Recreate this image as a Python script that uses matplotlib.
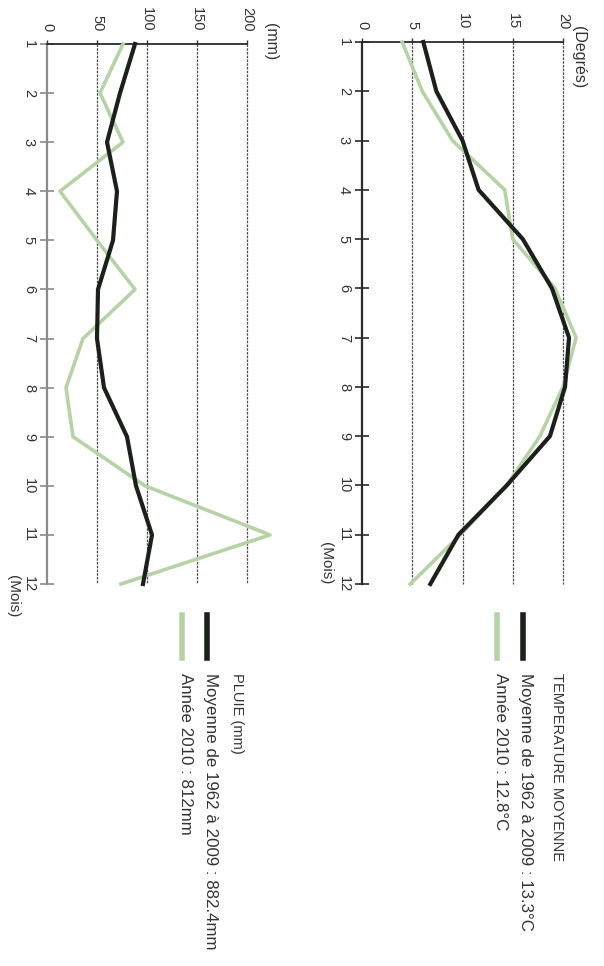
import matplotlib
matplotlib.use("Agg")
import matplotlib.pyplot as plt
from matplotlib.lines import Line2D

plt.rcParams['font.family'] = ['Liberation Sans', 'DejaVu Sans']

# Monthly data
mois = [1, 2, 3, 4, 5, 6, 7, 8, 9, 10, 11, 12]
temp_moyenne = [6.1, 7.4, 10.0, 11.6, 16.0, 18.9, 20.6, 20.2, 18.7, 14.4, 9.6, 6.8]
temp_2010 = [4.0, 6.0, 9.0, 14.2, 15.0, 19.2, 21.3, 20.0, 17.7, 14.4, 9.8, 4.8]
pluie_moyenne = [88, 73, 60, 70, 66, 51, 50, 57, 80, 89, 105, 96]
pluie_2010 = [76, 53, 76, 13, 50, 88, 36, 19, 26, 98, 223, 74]

temp_ticks = [0, 5, 10, 15, 20]
pluie_ticks = [0, 50, 100, 150, 200]

NOIR = '#1b201b'
VERT = '#b6d3a6'
GRILLE = '#4a4a4a'

W, H = 604, 966
fig = plt.figure(figsize=(W / 100, H / 100), dpi=100)


def px_rect(x0, x1, y0, y1):
    return [x0 / W, 1 - y1 / H, (x1 - x0) / W, (y1 - y0) / H]


def panneau(rect, vmax, ticks, moyenne, annee, spine_mois, unite, unite_xy, mois_xy):
    ax = fig.add_axes(rect)
    ax.set_xlim(0, vmax)
    ax.set_ylim(12, 1)
    ax.patch.set_alpha(0)
    for s in ['right', 'bottom']:
        ax.spines[s].set_visible(False)
    ax.spines['top'].set_color('#2a2a2a')
    ax.spines['top'].set_linewidth(1.3)
    ax.spines['left'].set_color(spine_mois)
    ax.spines['left'].set_linewidth(1.6)

    ax.vlines(ticks[1:], 1, 12, colors=GRILLE, linewidth=0.9,
              linestyles=(0, (2, 1)), clip_on=False)
    ax.plot(annee, mois, color=VERT, linewidth=2.6, clip_on=False, zorder=3)
    ax.plot(moyenne, mois, color=NOIR, linewidth=3.0, clip_on=False, zorder=4)

    ax.xaxis.tick_top()
    ax.set_xticks(ticks)
    ax.set_xticklabels([str(t) for t in ticks], rotation=270, fontsize=10.5, color='#333')
    ax.tick_params(axis='x', direction='out', length=3, width=1, pad=6, colors='#333')
    ax.set_yticks(mois)
    ax.set_yticklabels([str(m) for m in mois], rotation=270, fontsize=10.5, va='center', color='#333')
    ax.tick_params(axis='y', direction='inout', length=10, width=1.2, pad=3, colors='#333')
    ax.tick_params(axis='y', color=spine_mois)

    fig.text(unite_xy[0] / W, 1 - unite_xy[1] / H, unite, rotation=270,
             ha='center', va='top', fontsize=11.5, color='#333')
    fig.text(mois_xy[0] / W, 1 - mois_xy[1] / H, '(Mois)', rotation=270,
             ha='center', va='center', fontsize=11, color='#333')
    return ax


panneau(px_rect(362, 563, 42, 584), 20, temp_ticks, temp_moyenne, temp_2010,
        '#2a2a2a', '(Degrés)', (578, 26), (326, 563))
panneau(px_rect(47, 247, 44, 584), 200, pluie_ticks, pluie_moyenne, pluie_2010,
        '#8a8a8a', '(mm)', (270, 23), (13, 596))


def legende(x_titre, x_moy, x_an, titre, txt_moy, txt_an):
    fig.text(x_titre / W, 1 - 673 / H, titre, rotation=270, ha='center', va='top',
             fontsize=10.5, color='#333')
    for x, c, t in [(x_moy, NOIR, txt_moy), (x_an, VERT, txt_an)]:
        fig.add_artist(Line2D([x / W, x / W], [1 - 615 / H, 1 - 658 / H],
                              color=c, linewidth=4, transform=fig.transFigure))
        fig.text((x + 3) / W, 1 - 673 / H, t, rotation=270, ha='center', va='top',
                 fontsize=12.2, color='#333')


legende(557, 523, 497, 'TEMPERATURE MOYENNE',
        'Moyenne de 1962 à 2009 : 13.3°C', 'Année 2010 : 12.8°C')
legende(237, 207, 182, 'PLUIE (mm)',
        'Moyenne de 1962 à 2009 : 882.4mm', 'Année 2010 : 812mm')

fig.savefig('out.png', dpi=100)
